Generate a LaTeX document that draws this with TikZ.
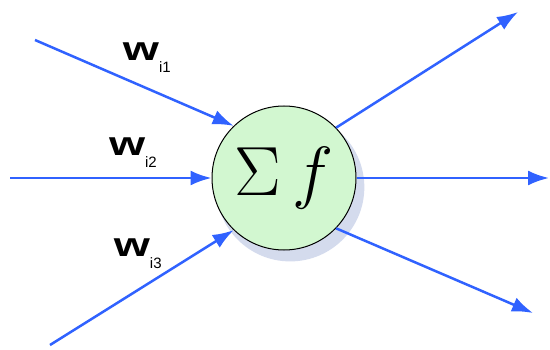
\documentclass[tikz,border=0pt]{standalone}
\usepackage{fontspec}
\usepackage{tikz}
\usetikzlibrary{arrows.meta, shadows}

\newfontfamily\labfont{Liberation Sans}
\definecolor{linkblue}{RGB}{48,98,255}
\definecolor{cellgreen}{RGB}{210,247,208}
\definecolor{shadowblue}{RGB}{212,219,237}
\newcommand{\wlabel}[1]{\scalebox{1.45}[1.05]{\labfont\fontsize{32}{32}\selectfont\bfseries w}\raisebox{-12pt}{\labfont\fontsize{15}{15}\selectfont i#1}}

\begin{document}
\begin{tikzpicture}[
    x=1pt, y=1pt,
    >={Latex[length=21pt, width=15pt]},
    neuron/.style={
        circle,
        draw,
        line width=1pt,
        fill=cellgreen,
        text=black,
        minimum size=144pt,
        inner sep=0pt,
        drop shadow={shadow xshift=6pt, shadow yshift=-9pt, shadow scale=1.03, fill=shadowblue, opacity=1}
    },
    link/.style={->, line width=2.5pt, draw=linkblue, fill=linkblue},
    wlab/.style={inner sep=0pt, text=black}
]
\useasboundingbox (0,0) rectangle (550,349);
\node[neuron] (sum) at (284,171) {\raisebox{-4pt}{\scalebox{2.8}{\Huge$\Sigma\,f$}}};

\coordinate (in1) at (35,309);
\coordinate (in2) at (10,171);
\coordinate (in3) at (50,4);
\coordinate (out1) at (518,337);
\coordinate (out2) at (549,171);
\coordinate (out3) at (533,36);

\draw[link] (in1) -- node[wlab, pos=0.563, above=15pt] {\wlabel{1}} (sum.134);
\draw[link] (in2) -- node[wlab, pos=0.61, above=9pt] {\wlabel{2}} (sum.west);
\draw[link] (in3) -- node[wlab, pos=0.478, above=20pt] {\wlabel{3}} (sum.226);
\draw[link] (sum.44) -- (out1);
\draw[link] (sum.east) -- (out2);
\draw[link] (sum.316) -- (out3);
\end{tikzpicture}
\end{document}
